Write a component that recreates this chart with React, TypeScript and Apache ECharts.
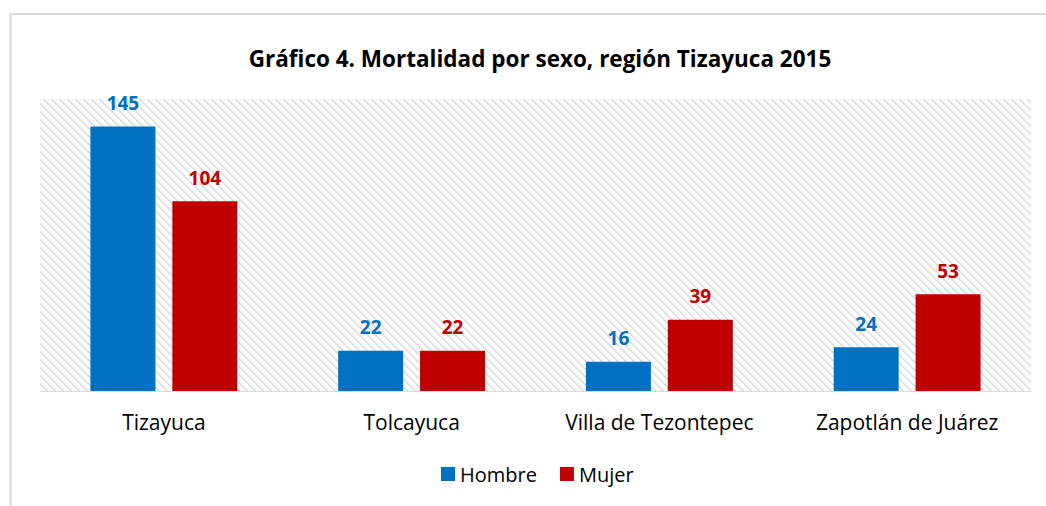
import React, { useEffect, useRef } from "react";
import * as echarts from "echarts";

const titleText = "Gráfico 4. Mortalidad por sexo, región Tizayuca 2015";
const categories = ["Tizayuca", "Tolcayuca", "Villa de Tezontepec", "Zapotlán de Juárez"];
const seriesNames = ["Hombre", "Mujer"];
const hombre = [145, 22, 16, 24];
const mujer = [104, 22, 39, 53];
const yMax = 160;

const W = 1046;
const H = 506;
const GRID = { left: 40, right: 15, top: 99, bottom: 115 };
const FONT = "'Open Sans', 'Noto Sans', sans-serif";
const BLUE = "#0070C0";
const RED = "#C00000";

function makeHatch(): HTMLCanvasElement {
  const c = document.createElement("canvas");
  c.width = 8;
  c.height = 8;
  const ctx = c.getContext("2d")!;
  ctx.fillStyle = "#ffffff";
  ctx.fillRect(0, 0, 8, 8);
  ctx.fillStyle = "#dcdcdc";
  for (let i = 0; i < 8; i++) {
    ctx.fillRect(i, i, 1, 1);
    ctx.fillRect((i + 1) % 8, i, 1, 1);
  }
  return c;
}

export default function App() {
  const ref = useRef<HTMLDivElement>(null);
  useEffect(() => {
    if (!ref.current) return;
    const chart = echarts.init(ref.current, undefined, { renderer: "svg" });
    const hatch = makeHatch();
    const labelStyle = (color: string) => ({
      show: true,
      position: "top" as const,
      distance: 14,
      fontFamily: FONT,
      fontSize: 19,
      fontWeight: "bold" as const,
      color,
    });
    chart.setOption({
      animation: false,
      backgroundColor: "#ffffff",
      title: {
        text: titleText,
        left: 535,
        textAlign: "center",
        top: 42,
        textStyle: { fontFamily: FONT, fontSize: 22.5, fontWeight: "bold", color: "#000000" },
      },
      graphic: [
        {
          type: "rect",
          z: -10,
          silent: true,
          shape: { x: 10.5, y: 14, width: 2000, height: 2000 },
          style: { fill: "none", stroke: "#d9d9d9", lineWidth: 2 },
        },
        {
          type: "rect",
          z: -10,
          silent: true,
          shape: {
            x: GRID.left,
            y: GRID.top,
            width: W - GRID.left - GRID.right,
            height: H - GRID.top - GRID.bottom,
          },
          style: {
            fill: { image: hatch, repeat: "repeat", imageWidth: 8, imageHeight: 8 } as any,
          },
        },
      ],
      legend: {
        data: seriesNames,
        left: 441,
        top: 464,
        padding: 0,
        icon: "rect",
        itemWidth: 14,
        itemHeight: 14,
        itemGap: 23,
        textStyle: { fontFamily: FONT, fontSize: 20, color: "#000000" },
      },
      grid: { ...GRID },
      xAxis: {
        type: "category",
        data: categories,
        axisLine: { lineStyle: { color: "#d9d9d9", width: 1 } },
        axisTick: { show: false },
        axisLabel: { fontFamily: FONT, fontSize: 21, color: "#000000", margin: 20 },
      },
      yAxis: {
        type: "value",
        min: 0,
        max: yMax,
        show: false,
        splitLine: { show: false },
      },
      series: [
        {
          name: seriesNames[0],
          type: "bar",
          data: hombre,
          barWidth: 65,
          barGap: "26%",
          itemStyle: { color: BLUE },
          label: labelStyle(BLUE),
        },
        {
          name: seriesNames[1],
          type: "bar",
          data: mujer,
          barWidth: 65,
          barGap: "26%",
          itemStyle: { color: RED },
          label: labelStyle(RED),
        },
      ],
    });
    return () => chart.dispose();
  }, []);
  return (
    <div
      ref={ref}
      style={{ position: "fixed", left: 0, top: 0, width: W, height: H }}
    />
  );
}
